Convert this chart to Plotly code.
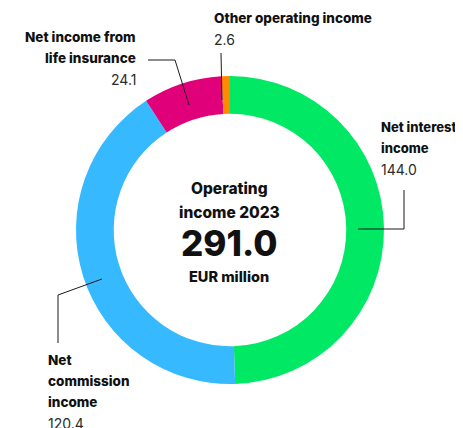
import plotly.graph_objects as go

# Operating income 2023, EUR million
labels = ["Net interest income", "Net commission income",
          "Net income from life insurance", "Other operating income"]
values = [144.0, 120.4, 24.1, 2.6]
colors = ["#00E864", "#36B9FF", "#E0007A", "#FF8A00"]
total = 291.0
year = 2023

W, H = 463, 428
OFF = 8  # page body margin: the figure sits 8px in from the window corner
FONT = "Inter"
INK = "#111111"
NUM = "#2b2b2b"

fig = go.Figure(go.Pie(
    labels=labels,
    values=values,
    marker=dict(colors=colors, line=dict(width=0)),
    hole=0.755,
    sort=False,
    direction="clockwise",
    rotation=0,
    textinfo="none",
    hoverinfo="label+value",
    showlegend=False,
    domain=dict(x=[(76 - OFF) / W, (384 - OFF) / W],
                y=[1 - (384 - OFF) / H, 1 - (76 - OFF) / H]),
))

# label blocks: (lines of bold name, value, x, first line y, anchor, font size)
blocks = [
    (["Net interest", "income"], values[0], 379, 127, "left", 13),
    (["Net", "commission", "income"], values[1], 46, 360, "left", 13.5),
    (["Net income from", "life insurance"], values[2], 138, 37, "right", 13.5),
    (["Other operating income"], values[3], 212, 18, "left", 13.5),
]
step = 21
ann = []
for lines, v, x, y0, anc, fs in blocks:
    for i, ln in enumerate(lines):
        ann.append(dict(x=x, y=y0 + i * step, text=ln,
                        xanchor=anc, yanchor="middle", showarrow=False,
                        font=dict(family=FONT, size=fs, color=INK, weight=800)))
    ann.append(dict(x=x, y=y0 + len(lines) * step, text=f"{v:.1f}",
                    xanchor=anc, yanchor="middle", showarrow=False,
                    font=dict(family=FONT, size=14, color=NUM)))

# centre text
cx = 229
big = dict(family=FONT, color=INK, weight=800)
ann += [
    dict(x=cx, y=188, text="Operating", showarrow=False, font=dict(big, size=15.5)),
    dict(x=cx, y=212, text=f"income {year}", showarrow=False, font=dict(big, size=15.5)),
    dict(x=cx, y=243, text=f"{total:.1f}", showarrow=False, font=dict(big, size=35)),
    dict(x=cx, y=276, text="EUR million", showarrow=False, font=dict(big, size=14.5)),
]

# leader lines
line = dict(color="#1a1a1a", width=1)
shapes = [
    dict(type="path", path="M 358 229 L 404 229 L 404 190", line=line),
    dict(type="path", path="M 102 279 L 58 295 L 58 343", line=line),
    dict(type="path", path="M 148 60 L 175 60 L 189 105", line=line),
    dict(type="path", path="M 221 53 L 222 100", line=line),
]
for s in shapes:
    s.update(xref="x", yref="y", layer="above")

fig.update_layout(
    width=W, height=H,
    margin=dict(l=0, r=0, t=0, b=0),
    paper_bgcolor="white", plot_bgcolor="white",
    xaxis=dict(range=[OFF, W + OFF], visible=False, fixedrange=True),
    yaxis=dict(range=[H + OFF, OFF], visible=False, fixedrange=True),
    annotations=ann,
    shapes=shapes,
)

fig.write_html("out.html")
